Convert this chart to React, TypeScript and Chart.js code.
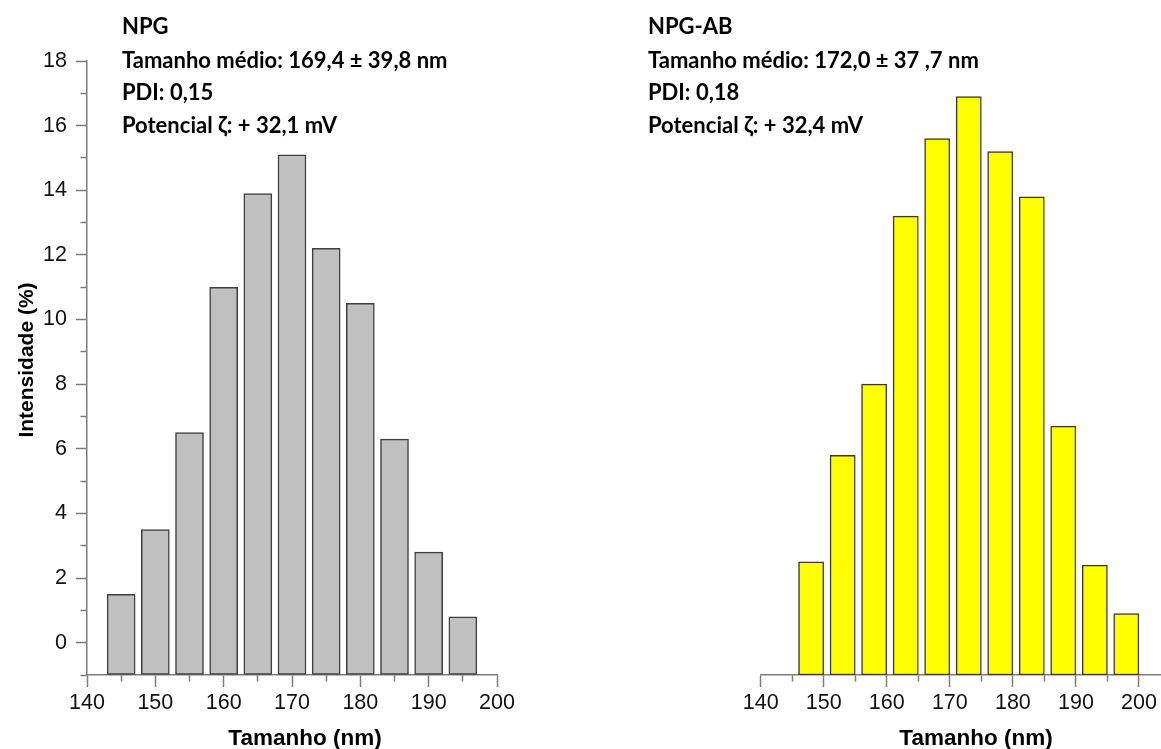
import React, { useEffect, useRef } from "react";
import { Chart, registerables } from "chart.js";

Chart.register(...registerables);

// ---- data ----
const npgSizes = [145, 150, 155, 160, 165, 170, 175, 180, 185, 190, 195];
const npgIntensity = [1.5, 3.5, 6.5, 11.0, 13.9, 15.1, 12.2, 10.5, 6.3, 2.8, 0.8];

const npgAbSizes = [148, 153, 158, 163, 168, 173, 178, 183, 188, 193, 198];
const npgAbIntensity = [2.5, 5.8, 8.0, 13.2, 15.6, 16.9, 15.2, 13.8, 6.7, 2.4, 0.9];

const npgLines = [
  "NPG",
  "Tamanho médio: 169,4 ± 39,8 nm",
  "PDI: 0,15",
  "Potencial ζ: + 32,1 mV",
];
const npgAbLines = [
  "NPG-AB",
  "Tamanho médio: 172,0 ± 37 ,7 nm",
  "PDI: 0,18",
  "Potencial ζ: + 32,4 mV",
];

const xTitle = "Tamanho (nm)";
const yTitle = "Intensidade (%)";

// ---- styles ----
const W = 1161;
const H = 749;
const AXIS = "#7c7c7c";
const TICK_FONT = { family: "'Liberation Sans', Arial, sans-serif", size: 21.5 };
const LINE_Y = [27, 61, 93, 126];

function annotPlugin(lines: string[], textX: number, titleX: number, withY: boolean) {
  return {
    id: "annot",
    afterDraw(chart: any) {
      const ctx = chart.ctx;
      ctx.save();
      ctx.fillStyle = "#000";
      ctx.font = "bold 22px Lato, 'Open Sans', sans-serif";
      ctx.textAlign = "left";
      ctx.textBaseline = "middle";
      lines.forEach((t, i) => ctx.fillText(t, textX, LINE_Y[i]));
      ctx.font = "bold 22.5px 'Liberation Sans', Arial, sans-serif";
      ctx.textAlign = "center";
      ctx.textBaseline = "alphabetic";
      ctx.fillText(xTitle, titleX, 745);
      if (withY) {
        ctx.font = "bold 21px 'Liberation Sans', Arial, sans-serif";
        ctx.translate(33, 360);
        ctx.rotate(-Math.PI / 2);
        ctx.fillText(yTitle, 0, 0);
      }
      ctx.restore();
    },
  };
}

function makeConfig(
  sizes: number[],
  values: number[],
  fill: string,
  border: string,
  barPct: number,
  xMax: number,
  padding: any,
  showY: boolean,
  plugin: any
): any {
  return {
    type: "bar",
    data: {
      datasets: [
        {
          data: sizes.map((x, i) => ({ x, y: values[i] })),
          backgroundColor: fill,
          borderColor: border,
          borderWidth: 1.5,
          borderSkipped: false,
          base: -1,
          barThickness: "flex",
          categoryPercentage: 1,
          barPercentage: barPct,
        },
      ],
    },
    options: {
      animation: false,
      responsive: false,
      maintainAspectRatio: false,
      layout: { padding },
      plugins: {
        legend: { display: false },
        tooltip: { enabled: false },
        title: { display: false },
      },
      scales: {
        x: {
          type: "linear",
          min: 140,
          max: xMax,
          offset: false,
          afterFit: (s: any) => {
            s.height = 74;
          },
          ticks: {
            stepSize: 5,
            includeBounds: false,
            autoSkip: false,
            maxRotation: 0,
            minRotation: 0,
            padding: 3,
            color: "#111",
            font: TICK_FONT,
            callback: (v: number) => (v % 10 === 0 ? String(v) : ""),
          },
          grid: {
            offset: false,
            drawOnChartArea: false,
            tickLength: 12,
            tickWidth: 1.5,
            tickColor: AXIS,
            tickBorderDash: (c: any) =>
              c.tick && c.tick.value % 10 === 0 ? [] : [6, 100],
          },
          border: { display: true, color: AXIS, width: 1.5 },
        },
        y: {
          display: showY,
          min: -1,
          max: 18,
          afterFit: (s: any) => {
            s.width = showY ? 87 : 0;
          },
          ticks: {
            stepSize: 1,
            autoSkip: false,
            padding: 9,
            color: "#111",
            font: TICK_FONT,
            callback: (v: number) => (v % 2 === 0 ? String(v) : ""),
          },
          grid: {
            drawOnChartArea: false,
            tickLength: 11,
            tickWidth: 1.5,
            tickColor: AXIS,
            tickBorderDash: (c: any) =>
              c.tick && c.tick.value % 2 === 0 ? [] : [0, 4.5, 100],
          },
          border: { display: true, color: AXIS, width: 1.5 },
        },
      },
    },
    plugins: [plugin],
  };
}

export default function App() {
  const leftRef = useRef<HTMLCanvasElement>(null);
  const rightRef = useRef<HTMLCanvasElement>(null);

  useEffect(() => {
    const left = new Chart(
      leftRef.current as HTMLCanvasElement,
      makeConfig(
        npgSizes,
        npgIntensity,
        "#c0c0c0",
        "#3f3f3f",
        0.82,
        200,
        { left: 0, top: 61, right: W - 497, bottom: 0 },
        true,
        annotPlugin(npgLines, 122, 305, true)
      )
    );
    const right = new Chart(
      rightRef.current as HTMLCanvasElement,
      makeConfig(
        npgAbSizes,
        npgAbIntensity,
        "#ffff00",
        "#3d3d1e",
        0.8,
        203.5,
        { left: 760.7, top: 61, right: 0, bottom: 0 },
        false,
        annotPlugin(npgAbLines, 648, 976, false)
      )
    );
    return () => {
      left.destroy();
      right.destroy();
    };
  }, []);

  const cstyle: React.CSSProperties = {
    position: "absolute",
    left: 0,
    top: 0,
    width: W,
    height: H,
  };

  return (
    <div
      style={{
        position: "absolute",
        left: 0,
        top: 0,
        width: W,
        height: H,
        overflow: "hidden",
        background: "#fff",
      }}
    >
      <canvas ref={leftRef} width={W} height={H} style={cstyle} />
      <canvas ref={rightRef} width={W} height={H} style={cstyle} />
    </div>
  );
}
